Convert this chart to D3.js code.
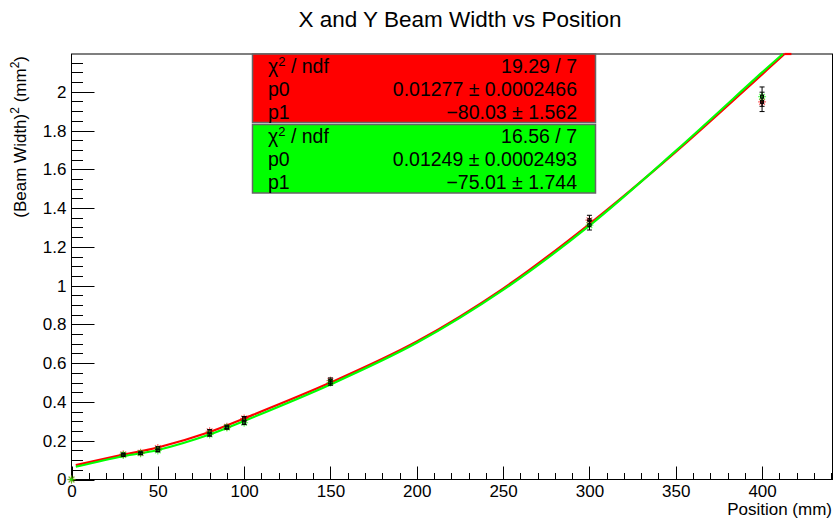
<!DOCTYPE html>
<html>
<head>
<meta charset="utf-8">
<script src="https://cdn.jsdelivr.net/npm/d3@7/dist/d3.min.js"></script>
<style>
  html, body { margin: 0; padding: 0; background: #fff; }
  svg { display: block; font-family: "Liberation Sans", Arial, Helvetica, sans-serif; }
</style>
</head>
<body>
<svg id="chart" width="834" height="519"></svg>
<script>
// Measured beam width squared at each position (mm), X in red, Y in green
const positions = [0, 30, 40, 50, 80, 90, 100, 150, 300, 400];
const xWidthSq = [0, 0.130, 0.138, 0.162, 0.249, 0.272, 0.315, 0.510, 1.338, 1.948];
const xWidthErr = [0, 0.005, 0.005, 0.006, 0.008, 0.008, 0.010, 0.014, 0.025, 0.050];
const yWidthSq = [0, 0.126, 0.135, 0.150, 0.232, 0.268, 0.293, 0.500, 1.312, 1.975];
const yWidthErr = [0, 0.005, 0.005, 0.006, 0.008, 0.008, 0.010, 0.014, 0.025, 0.050];

// Fitted curves, sampled along the fit range up to where they leave the frame
const fitXRed = [2.5, 30, 50, 80, 100, 150, 200, 250, 300, 350, 400, 413];
const fitYRed = [0.074, 0.128, 0.165, 0.245, 0.315, 0.500, 0.712, 0.985, 1.318, 1.690, 2.090, 2.195];
const fitXGreen = [2.5, 30, 50, 80, 100, 150, 200, 250, 300, 350, 400, 412];
const fitYGreen = [0.066, 0.120, 0.152, 0.232, 0.302, 0.490, 0.705, 0.978, 1.310, 1.695, 2.100, 2.195];
const fitRangeEnd = 417;

// Fit statistics boxes
const statsRed = [["χ² / ndf", "19.29 / 7"], ["p0", "0.01277 ± 0.0002466"], ["p1", "−80.03 ± 1.562"]];
const statsGreen = [["χ² / ndf", "16.56 / 7"], ["p0", "0.01249 ± 0.0002493"], ["p1", "−75.01 ± 1.744"]];

const xTicks = [0, 50, 100, 150, 200, 250, 300, 350, 400];
const yTicks = [0, 0.2, 0.4, 0.6, 0.8, 1, 1.2, 1.4, 1.6, 1.8, 2];

const svg = d3.select("#chart");
const L = 71.5, R = 832.5, T = 54, B = 479.5;
const xMax = 440.8, yMax = 2.195;
const x = d3.scaleLinear().domain([0, xMax]).range([L, R]);
const y = d3.scaleLinear().domain([0, yMax]).range([B, T]);

// Title
svg.append("text").attr("x", 460).attr("y", 27).attr("text-anchor", "middle")
  .attr("font-size", 22.5).attr("fill", "#000").text("X and Y Beam Width vs Position");

// Frame
svg.append("rect").attr("x", L).attr("y", T).attr("width", R - L).attr("height", B - T)
  .attr("fill", "none").attr("stroke", "#000").attr("stroke-width", 1);

// X axis ticks (inward, upwards)
const xMinor = d3.range(0, xMax, 10);
svg.append("g").selectAll("line").data(xMinor).join("line")
  .attr("x1", d => Math.round(x(d)) + 0.5).attr("x2", d => Math.round(x(d)) + 0.5)
  .attr("y1", B).attr("y2", d => B - (d % 50 === 0 ? 13 : 6.5))
  .attr("stroke", "#000").attr("stroke-width", 1);
const xAxis = d3.axisBottom(x).tickValues(xTicks).tickSize(0).tickPadding(4).tickFormat(d3.format("d"));
const gx = svg.append("g").attr("transform", `translate(0,${B})`).call(xAxis);
gx.select(".domain").remove();
gx.selectAll("text").attr("font-size", 17).attr("fill", "#000")
  .attr("font-family", "Liberation Sans, Arial, sans-serif").attr("dy", "0.78em");

// Y axis ticks (inward, rightwards)
const yMinor = d3.range(0, yMax, 0.05);
svg.append("g").selectAll("line").data(yMinor).join("line")
  .attr("y1", d => Math.round(y(d)) + 0.5).attr("y2", d => Math.round(y(d)) + 0.5)
  .attr("x1", L).attr("x2", (d, i) => L + (i % 4 === 0 ? 23 : 11.5))
  .attr("stroke", "#000").attr("stroke-width", 1);
const yAxis = d3.axisLeft(y).tickValues(yTicks).tickSize(0).tickPadding(5).tickFormat(d => d3.format("~g")(d));
const gy = svg.append("g").attr("transform", `translate(${L},0)`).call(yAxis);
gy.select(".domain").remove();
gy.selectAll("text").attr("font-size", 17).attr("fill", "#000")
  .attr("font-family", "Liberation Sans, Arial, sans-serif");

// Axis titles
svg.append("text").attr("x", 832).attr("y", 515).attr("text-anchor", "end")
  .attr("font-size", 17).attr("fill", "#000").text("Position (mm)");
const yt = svg.append("text").attr("transform", "translate(26,56) rotate(-90)")
  .attr("text-anchor", "end").attr("font-size", 17).attr("fill", "#000");
yt.append("tspan").text("(Beam Width)");
yt.append("tspan").attr("dy", -7).attr("font-size", 12).text("2");
yt.append("tspan").attr("dy", 7).text(" (mm");
yt.append("tspan").attr("dy", -7).attr("font-size", 12).text("2");
yt.append("tspan").attr("dy", 7).text(")");

// Fitted curves; past the top of the frame the red fit runs along the edge
const line = d3.line().x(d => x(d[0])).y(d => y(Math.min(d[1], yMax))).curve(d3.curveCatmullRom);
svg.append("path").datum(d3.zip(fitXRed, fitYRed)).attr("d", line)
  .attr("fill", "none").attr("stroke", "#ff0000").attr("stroke-width", 2.2);
svg.append("path")
  .datum([[fitXRed[fitXRed.length - 1], yMax], [fitRangeEnd, yMax]])
  .attr("d", d3.line().x(d => x(d[0])).y(d => y(d[1])))
  .attr("fill", "none").attr("stroke", "#ff0000").attr("stroke-width", 2.2);
svg.append("path").datum(d3.zip(fitXGreen, fitYGreen)).attr("d", line)
  .attr("fill", "none").attr("stroke", "#00ff00").attr("stroke-width", 2.2);

// Data points: coloured star markers, black error bars and points
function drawSeries(vals, errs, color) {
  const g = svg.append("g");
  positions.forEach((p, i) => {
    const cx = x(p), cy = y(vals[i]);
    const r = 4;
    [0, 45, 90, 135].forEach(a => {
      const rad = a * Math.PI / 180;
      g.append("line")
        .attr("x1", cx - r * Math.cos(rad)).attr("y1", cy - r * Math.sin(rad))
        .attr("x2", cx + r * Math.cos(rad)).attr("y2", cy + r * Math.sin(rad))
        .attr("stroke", color).attr("stroke-width", 1.2).attr("opacity", 0.6);
    });
    if (errs[i] > 0) {
      const y1 = y(vals[i] + errs[i]), y2 = y(vals[i] - errs[i]);
      g.append("line").attr("x1", cx).attr("x2", cx).attr("y1", y1).attr("y2", y2)
        .attr("stroke", "#000").attr("stroke-width", 1);
      [y1, y2].forEach(yy => g.append("line").attr("x1", cx - 2.5).attr("x2", cx + 2.5)
        .attr("y1", yy).attr("y2", yy).attr("stroke", "#000").attr("stroke-width", 1));
      g.append("rect").attr("x", cx - 1.5).attr("y", cy - 1.5).attr("width", 3).attr("height", 3)
        .attr("fill", "none").attr("stroke", "#000").attr("stroke-width", 1);
    }
  });
}
drawSeries(xWidthSq, xWidthErr, "#ff0000");
drawSeries(yWidthSq, yWidthErr, "#00ff00");

// Statistics boxes
function statsBox(rows, top, color) {
  const bx = 252.5, bw = 343, bh = 68.5;
  svg.append("rect").attr("x", bx).attr("y", top).attr("width", bw).attr("height", bh)
    .attr("fill", color).attr("stroke", "#666").attr("stroke-width", 1.5);
  rows.forEach((r, i) => {
    const by = top + 18.5 + i * 23;
    const lt = svg.append("text").attr("x", 268).attr("y", by).attr("font-size", 19.5).attr("fill", "#000");
    if (r[0].startsWith("χ²")) {
      lt.append("tspan").text("χ");
      lt.append("tspan").attr("dy", -7).attr("font-size", 13).text("2");
      lt.append("tspan").attr("dy", 7).text(" / ndf");
    } else {
      lt.text(r[0]);
    }
    svg.append("text").attr("x", 577).attr("y", by).attr("text-anchor", "end")
      .attr("font-size", 19.5).attr("fill", "#000").text(r[1]);
  });
}
statsBox(statsRed, 54, "#ff0000");
statsBox(statsGreen, 124.5, "#00ff00");
</script>
</body>
</html>
